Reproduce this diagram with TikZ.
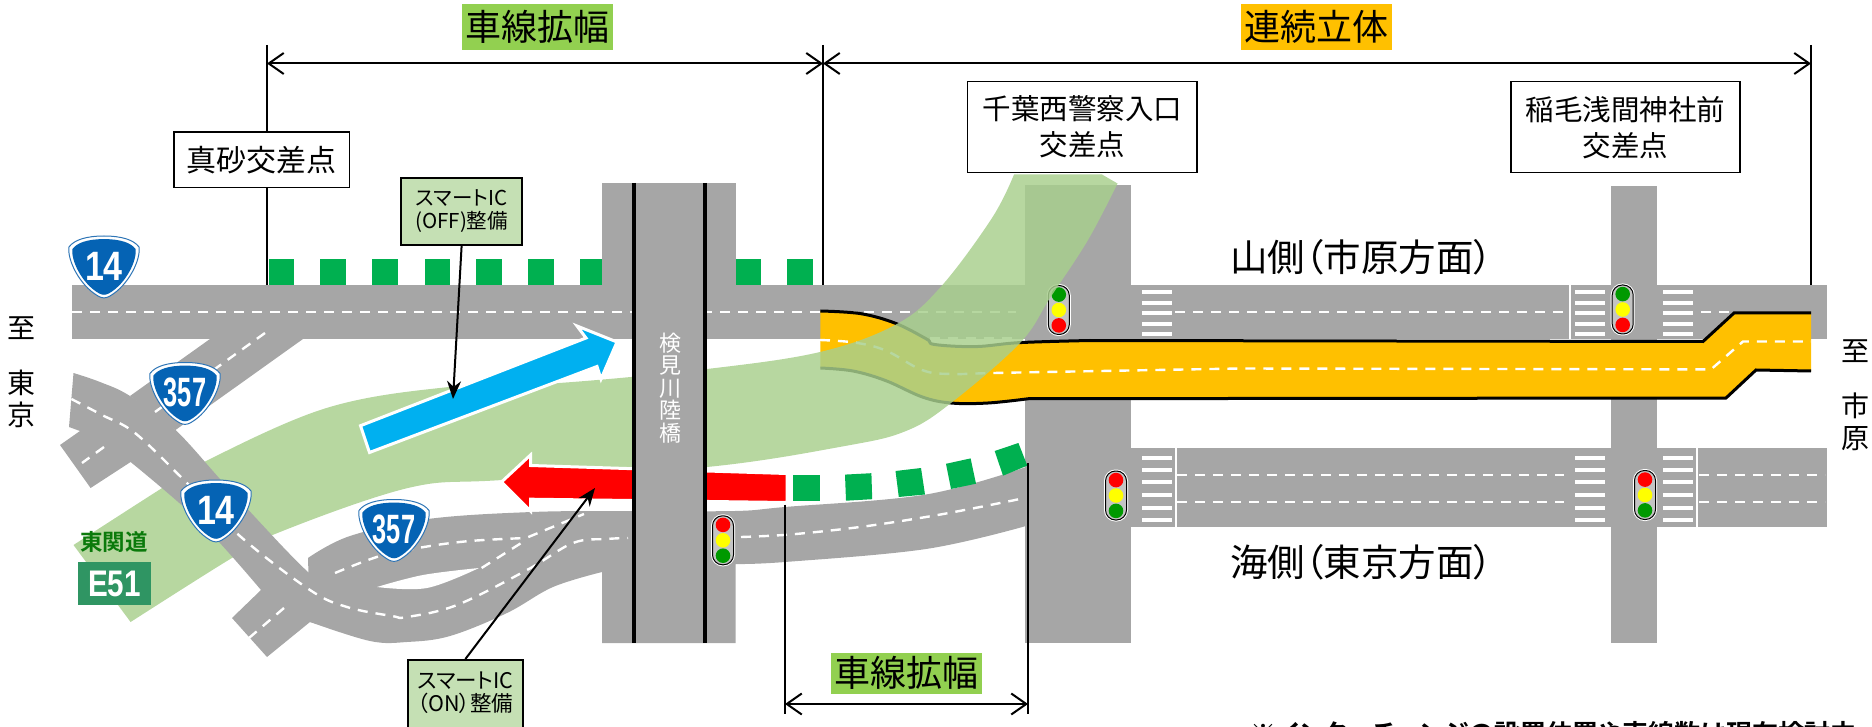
\documentclass[tikz,border=0pt]{standalone}
\usepackage{graphicx}
\usepackage{fontspec}
\setmainfont{Noto Sans CJK JP}[RawFeature=+palt,BoldFont={Noto Sans CJK JP Bold}]
\newfontfamily\arialf{Liberation Sans}[BoldFont={Liberation Sans Bold}]
\usetikzlibrary{arrows.meta}
\definecolor{roadgray}{HTML}{A6A6A6}
\definecolor{bandgreen}{RGB}{168,207,141}
\definecolor{blockgreen}{HTML}{00B050}
\definecolor{elevyellow}{HTML}{FFC000}
\definecolor{widenbg}{HTML}{92D050}
\definecolor{calloutbg}{HTML}{C5E0B4}
\definecolor{shieldblue}{HTML}{0563B4}
\definecolor{shieldedge}{HTML}{2E75B6}
\definecolor{sigred}{HTML}{FF0000}
\definecolor{sigyellow}{HTML}{FFFF00}
\definecolor{siggreen}{HTML}{009900}
\definecolor{sigbody}{HTML}{C4C4C4}
\definecolor{e51green}{HTML}{2F9563}
\definecolor{e51text}{HTML}{0B7A0B}
\definecolor{arrowblue}{HTML}{00B0F0}
\tikzset{
  road/.style={fill=roadgray},
  gblock/.style={fill=blockgreen},
  dashline/.style={draw=white,line width=2.4pt,dash pattern=on 10pt off 8pt},
  stripe/.style={fill=white},
  edgeline/.style={draw=black,line width=3pt},
  bigbox/.style={draw=black,line width=1.6pt,fill=white,align=center,inner sep=0pt,
     font=\fontsize{28.5}{36}\selectfont},
  icbox/.style={draw=black,line width=2pt,fill=calloutbg,align=center,inner sep=0pt,
     font=\fontsize{20.5}{23}\selectfont},
  bigtitle/.style={inner sep=0pt,font=\fontsize{36}{40}\selectfont,minimum height=46pt},
  sidetext/.style={inner sep=0pt,font=\fontsize{37.5}{42}\selectfont,anchor=west},
  vtext/.style={inner sep=0pt,align=center,font=\fontsize{28}{32}\selectfont},
  dim/.style={draw=black,line width=2pt,{Straight Barb[length=15pt,width=21pt,line width=2pt]}-{Straight Barb[length=15pt,width=21pt,line width=2pt]}},
  thinline/.style={draw=black,line width=1.3pt},
  icarrow/.style={draw=black,line width=2pt,-{Stealth[length=18pt,width=14pt]}},
  shieldnum/.style={inner sep=0pt,text=white,font=\arialf\bfseries\fontsize{41}{41}\selectfont},
}
\newcommand{\shieldpath}{(0,-31) .. controls (18,-31) and (30,-27) .. (35,-20) .. controls (37,-8) and (25,18) .. (6,29) .. controls (2,31.5) and (-2,31.5) .. (-6,29) .. controls (-25,18) and (-37,-8) .. (-35,-20) .. controls (-30,-27) and (-18,-31) .. (0,-31) -- cycle}
\newcommand{\roadshield}[5]{% name,x,y,xscale,number
  \begin{scope}[shift={(#2,#3)}]
    \fill[white,draw=shieldedge,line width=1pt] \shieldpath;
    \fill[shieldblue,scale=.9] \shieldpath;
    \node[shieldnum] (#1) at (0,-1) {\scalebox{#4}[1]{#5}};
  \end{scope}}
\newcommand{\tlight}[6]{% name,x,y,top,mid,bottom
  \node[draw=white,line width=3pt,rounded corners=10pt,minimum width=21pt,minimum height=49pt,inner sep=0pt] (#1) at (#2,#3) {};
  \node[draw=black,fill=sigbody,line width=1pt,rounded corners=10pt,minimum width=21pt,minimum height=49pt,inner sep=0pt] (#1b) at (#2,#3) {};
  \fill[#4] (#2,#3-15.4) circle (7.3);
  \fill[#5] (#2,#3) circle (7.3);
  \fill[#6] (#2,#3+15.4) circle (7.3);}
\newcommand{\xwalk}[2]{% x, y list
  \foreach \yy in {#2} {\fill[stripe] (#1,\yy-2) rectangle (#1+30,\yy+2);}}
\begin{document}
\begin{tikzpicture}[x=1pt,y=-1pt]
\useasboundingbox (0,0) rectangle (1872,727);
% reference coordinates
\coordinate (d1) at (267,63.5);
\coordinate (d2) at (823,63.5);
\coordinate (d3) at (1811,63.5);
\coordinate (d4) at (785,704);
\coordinate (d5) at (1028,704);
\coordinate (offtip) at (453,399);
\coordinate (ontip) at (595,488);

% green widening blocks, upper
\foreach \a/\b in {268.6/294,320.4/346,372/398,424.5/450,476/502,528/553.5,579.6/602,735.5/761,787/813}
  {\fill[gblock] (\a,259) rectangle (\b,285);}

% main roads
\fill[road] (72,285) rectangle (1827,339);
\fill[road] (1024.5,447.5) rectangle (1827,527);
\fill[road] (1024.5,185) rectangle (1130.6,643);
\fill[road] (1611,186) rectangle (1657,643);
\fill[road] (602,183) rectangle (735.5,339);
% branch of 357
\fill[road] (210,339) -- (130,396) -- (175.5,430) -- (303,339) -- cycle;
% lower 357 road and bridge lower part
\fill[road] plot[smooth,tension=.6] coordinates {(308,558) (350,536) (428,519) (532,512) (632,511) (735,511) (785,507) (926,494.5) (1026,467)}
  -- (1026,526)
  -- plot[smooth,tension=.6] coordinates {(1026,526) (926,549) (785,562) (735.5,564)}
  -- (735.5,643) -- (602,643) -- (602,572)
  -- plot[smooth,tension=.6] coordinates {(602,572) (553,587) (507,613) (450,636) (407,642) (370,641) (310,622)} -- cycle;
\fill[white] plot[smooth,tension=.6] coordinates {(377,587) (423,575) (479,568)}
  -- plot[smooth,tension=.6] coordinates {(479,568) (427,588) (377,587)} -- cycle;

% road markings
\draw[dashline] (72,312) -- (1016,312);
\draw[dashline] (1175,312) -- (1568,312);
\draw[dashline] (1701,312) -- (1732,312);
\draw[dashline] (930,338) -- (1016,338);
\draw[dashline] (1177,475) -- (1564,475);
\draw[dashline] (1177,502) -- (1564,502);
\draw[dashline] (1699,475) -- (1825,475);
\draw[dashline] (1699,502) -- (1825,502);
\draw[dashline] plot[smooth,tension=.6] coordinates {(741,537) (790,534.5) (860,527) (926,517) (975,508) (1020,499)};
\draw[white,line width=1.6pt] (1570,285) -- (1570,339);
\draw[white,line width=1.6pt] (1176,447.5) -- (1176,527);
\draw[white,line width=1.6pt] (1697,447.5) -- (1697,527);
\xwalk{1141.6}{292,303,313,324,334}
\xwalk{1575}{292,303,313,324,334}
\xwalk{1662.7}{292,303,313,324,334}
\xwalk{1141.6}{457.6,470,482.4,495,507.5,519.7}
\xwalk{1575}{457.6,470,482.4,495,507.5,519.7}
\xwalk{1662.7}{457.6,470,482.4,495,507.5,519.7}

% elevated section
\fill[elevyellow] plot[smooth,tension=.6] coordinates {(820.4,311) (861,313.7) (896,323.5) (926.5,339) (934.7,344.5) (975.5,346.6) (1020,342.6) (1090,340.5)}
  -- (1703,341.5) -- (1734,313) -- (1811,313) -- (1811,371) -- (1756,370) -- (1726,398) -- (1028.6,398.7)
  -- plot[smooth,tension=.6] coordinates {(1028.6,398.7) (988,403) (951,403) (922.4,397) (885.7,380.6) (853,371) (820.4,368)} -- cycle;
\draw[edgeline] plot[smooth,tension=.6] coordinates {(820.4,311) (861,313.7) (896,323.5) (926.5,339) (934.7,344.5) (975.5,346.6) (1020,342.6) (1090,340.5)}
  -- (1703,341.5) -- (1734,313) -- (1811,313);
\draw[edgeline] (1811,371) -- (1756,370) -- (1726,398) -- (1028.6,398.7)
  -- plot[smooth,tension=.6] coordinates {(1028.6,398.7) (988,403) (951,403) (922.4,397) (885.7,380.6) (853,371) (820.4,368)};
\draw[dashline] plot[smooth,tension=.6] coordinates {(820,340) (855,342.6) (886,350.6) (922,370) (951,374) (1008,372.7) (1240,368.5)}
  -- (1711,369.4) -- (1743,341.5) -- (1811,341.5);

% signal under the band
\tlight{sigA}{1058.8}{310}{siggreen}{sigyellow}{sigred}

% Tokan-do planned band
\fill[bandgreen,opacity=.83] plot[smooth,tension=.6] coordinates {(73.5,545) (159,490) (204,462) (326.5,408) (449,387) (559,383) (707,369) (820,352) (896,324.5) (941,286.6) (992,218) (1014,174.5)}
  -- (1102,174.5) -- (1117.5,183.5)
  -- plot[smooth,tension=.6] coordinates {(1117.5,183.5) (1088,240) (1050,298) (1020,343) (951,403) (906,431) (845,446) (707,467) (502,480) (408,488) (277.5,533) (228.6,560) (130.6,622)} -- cycle;

% road 14 above the band
\fill[road] plot[smooth,tension=.6] coordinates {(73.5,373) (100,382) (130,396) (175.5,430) (230,490) (308,572) (345,595)}
  -- (345,630) -- (310,622) -- (267,657) -- (232,618) -- (261,590)
  -- plot[smooth,tension=.6] coordinates {(261,590) (200,522) (130.6,462)}
  -- (90.6,488) -- (60,445) -- (80,431) -- (69,427) -- cycle;
\draw[dashline] plot[smooth,tension=.6] coordinates {(71.4,399) (102,415) (135,433) (184,480) (241,537) (310,590) (347,607) (392,616) (407,617) (457,605) (527,570) (573,543) (607,539) (628,538)};
\draw[dashline] (265,333) -- (155,412);
\draw[dashline] (104,447) -- (82,463);
\draw[dashline] (284,608) -- (249,638);
\draw[dashline] plot[smooth,tension=.6] coordinates {(335,573) (380,556) (424,547) (470,541) (526,538)} -- (584,514);
\draw[dashline] (481.6,568) -- (526,540);

% lower widening blocks
\fill[gblock] (793,475.4) -- (819.6,475.4) -- (819.6,501) -- (793,501) -- cycle;
\fill[gblock] (845,474.6) -- (871.4,473.2) -- (872.2,499.2) -- (846,500.7) -- cycle;
\fill[gblock] (895.5,471) -- (921,468) -- (925,494.5) -- (898.8,497) -- cycle;
\fill[gblock] (946,463.8) -- (970.6,458.4) -- (976,483.7) -- (951,489) -- cycle;
\fill[gblock] (994.7,451) -- (1018.4,443) -- (1027.3,465.6) -- (1003,475.7) -- cycle;

% on / off arrows
\filldraw[fill=sigred,draw=white,line width=3pt] (787,473.5) -- (530.5,465.5) -- (530.5,455) -- (501.5,482) -- (530.5,511) -- (530.5,499.2) -- (787,502.5) -- cycle;
\filldraw[fill=arrowblue,draw=white,line width=3pt] (360.5,425.7) -- (586,338) -- (577,326) -- (617,342) -- (601,379) -- (597,366.5) -- (369.5,452.5) -- cycle;

% bridge deck
\fill[road] (633.5,183) rectangle (704.5,643);
\draw[black,line width=4pt] (633.5,183) -- (633.5,643);
\draw[black,line width=4pt] (704.5,183) -- (704.5,643);
\node[inner sep=0pt,align=center,text=white,font=\fontsize{22}{22.4}\selectfont] (bridge) at (670,388) {検\\見\\川\\陸\\橋};

% other signals
\tlight{sigB}{1622.7}{309.5}{siggreen}{sigyellow}{sigred}
\tlight{sigC}{1645}{495}{sigred}{sigyellow}{siggreen}
\tlight{sigD}{1116}{495.5}{sigred}{sigyellow}{siggreen}
\tlight{sigE}{723}{540.3}{sigred}{sigyellow}{siggreen}

% shields
\roadshield{s14a}{104}{267}{.83}{14}
\roadshield{s357a}{185}{393.5}{.62}{357}
\roadshield{s14b}{216}{511}{.83}{14}
\roadshield{s357b}{394}{530.5}{.62}{357}

% E51
\node[inner sep=0pt,text=e51text,font=\bfseries\fontsize{22.5}{24}\selectfont] (tkd) at (114,541.7) {東関道};
\node[fill=e51green,inner sep=0pt,minimum width=73pt,minimum height=43pt,text=white,font=\arialf\bfseries\fontsize{37}{37}\selectfont] (e51) at (114.5,583.5) {\scalebox{.8}[1]{E51}};

% dimension lines
\draw[thinline] (267,45) -- (267,285);
\draw[thinline] (823,45) -- (823,285);
\draw[thinline] (1811,45) -- (1811,285);
\draw[thinline] (785,504.7) -- (785,714);
\draw[thinline] (1028,463) -- (1028,714);
\draw[dim] (d1) -- (d2);
\draw[dim] (d2) -- (d3);
\draw[dim] (d4) -- (d5);

% titles
\node[bigtitle,fill=widenbg,minimum width=150.8pt] (t1) at (537.4,27) {車線拡幅};
\node[bigtitle,fill=elevyellow,minimum width=151pt] (t2) at (1316.5,27) {連続立体};
\node[bigtitle,fill=widenbg,minimum width=151pt,minimum height=41.4pt] (t3) at (906.5,673.3) {車線拡幅};

% intersections
\node[bigbox,minimum width=175.5pt,minimum height=55.4pt,font=\fontsize{30}{36}\selectfont] (masago) at (261.7,160) {真砂交差点};
\node[bigbox,minimum width=229.4pt,minimum height=91pt] (chiba) at (1082.3,127.2) {千葉西警察入口\\交差点};
\node[bigbox,minimum width=229.3pt,minimum height=91pt] (inage) at (1625.4,127.2) {稲毛浅間神社前\\交差点};

% IC boxes
\node[icbox,minimum width=121.6pt,minimum height=67pt] (offbox) at (461.6,211.5) {スマートIC\\(OFF)整備};
\node[icbox,minimum width=114.7pt,minimum height=80pt,anchor=north] (onbox) at (465.4,659) {};
\node[inner sep=0pt,align=center,font=\fontsize{21.5}{23}\selectfont] (ontext) at (465.4,693) {スマートIC\\（ON）整備};
\draw[icarrow] (offbox.south) -- (offtip);
\draw[icarrow] (onbox.north) -- (ontip);

% side labels
\node[sidetext] (yama) at (1230,257) {山側（市原方面）};
\node[sidetext] (umi) at (1230,562) {海側（東京方面）};
\node[vtext] (toTokyoA) at (21,328) {至};
\node[vtext] (toTokyoB) at (21,399) {東\\京};
\node[vtext] (toIchiA) at (1855,351) {至};
\node[vtext] (toIchiB) at (1855,422) {市\\原};

% note (runs off the lower edge, as in the reference)
\node[inner sep=0pt,anchor=north west,font=\bfseries\fontsize{26}{30}\selectfont] (note) at (1250,721) {※インターチェンジの設置位置や車線数は現在検討中};
\end{tikzpicture}
\end{document}
